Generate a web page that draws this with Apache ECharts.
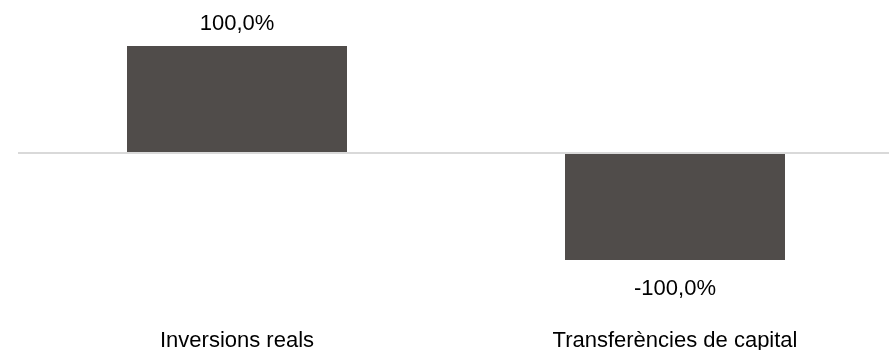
<!DOCTYPE html>
<html>
<head>
<meta charset="utf-8">
<script src="https://cdn.jsdelivr.net/npm/echarts@6/dist/echarts.min.js"></script>
<style>html,body{margin:0;padding:0;background:#fff}#c{width:889px;height:350px}</style>
</head>
<body>
<div id="c"></div>
<script>
var categories = ["Inversions reals", "Transferències de capital"];
var values = [100, -100];

var chart = echarts.init(document.getElementById('c'), null, {renderer: 'canvas'});
var FONT = '"Liberation Sans", Arial, sans-serif';
chart.setOption({
  animation: false,
  grid: {left: 18, width: 876, top: 46, bottom: 90, containLabel: false, outerBoundsMode: 'none'},
  xAxis: {
    type: 'category',
    data: categories,
    axisLine: {show: false, onZero: false},
    axisTick: {show: false},
    axisLabel: {color: '#000', fontSize: 22, fontFamily: FONT, margin: 70}
  },
  yAxis: {
    type: 'value', min: -100, max: 100,
    show: false
  },
  series: [{
    type: 'bar',
    barWidth: 220,
    itemStyle: {color: '#504c4a'},
    data: values.map(function (v) {
      return {
        value: v,
        label: {
          show: true,
          position: v >= 0 ? 'top' : 'bottom',
          distance: v >= 0 ? 11 : 18,
          color: '#000', fontSize: 22, fontFamily: FONT,
          formatter: function (p) { return p.value.toFixed(1).replace('.', ',') + '%'; }
        }
      };
    }),
    markLine: {
      silent: true, symbol: 'none', label: {show: false},
      lineStyle: {color: '#d9d9d9', width: 2, type: 'solid'},
      data: [{yAxis: 0}]
    }
  }]
});
</script>
</body>
</html>
